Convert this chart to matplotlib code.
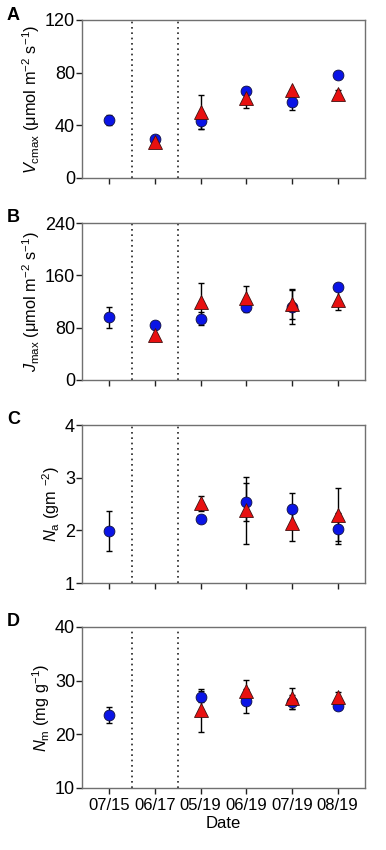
import numpy as np
import matplotlib
matplotlib.use("Agg")
import matplotlib.pyplot as plt

plt.rcParams['font.family'] = ['Liberation Sans', 'DejaVu Sans']
plt.rcParams['mathtext.fontset'] = 'custom'
plt.rcParams['mathtext.rm'] = 'Liberation Sans'
plt.rcParams['mathtext.it'] = 'Liberation Sans:italic'

dates = ['07/15', '06/17', '05/19', '06/19', '07/19', '08/19']

# circles (blue) and triangles (red): mean, error
vc_circ = [44, 30, 43, 66, 58, 78]
vc_circ_err = [4, 0, 6, 0, 6, 0]
vc_tri = [np.nan, 27, 50, 61, 67, 64]
vc_tri_err = [0, 0, 13, 8, 0, 3]

jm_circ = [96, 84, 94, 111, 112, 142]
jm_circ_err = [16, 0, 10, 7, 27, 0]
jm_tri = [np.nan, 69, 120, 126, 116, 122]
jm_tri_err = [0, 0, 28, 18, 22, 15]

na_circ = [1.99, np.nan, 2.22, 2.53, 2.41, 2.03]
na_circ_err = [0.38, 0, 0, 0.36, 0.30, 0.29]
na_tri = [np.nan, np.nan, 2.51, 2.38, 2.14, 2.30]
na_tri_err = [0, 0, 0.14, 0.64, 0.35, 0.51]

nm_circ = [23.6, np.nan, 27.0, 26.2, 26.0, 25.2]
nm_circ_err = [1.4, 0, 1.0, 2.2, 1.3, 0]
nm_tri = [np.nan, np.nan, 24.5, 28.0, 26.7, 27.0]
nm_tri_err = [0, 0, 4.0, 2.1, 2.0, 0.8]

panels = [
    ('A', vc_circ, vc_circ_err, vc_tri, vc_tri_err, (0, 120), [0, 40, 80, 120],
     r'$V_{\mathrm{cmax}}$ ($\mathrm{\mu}$mol m$^{-2}$ s$^{-1}$)'),
    ('B', jm_circ, jm_circ_err, jm_tri, jm_tri_err, (0, 240), [0, 80, 160, 240],
     r'$J_{\mathrm{max}}$ ($\mathrm{\mu}$mol m$^{-2}$ s$^{-1}$)'),
    ('C', na_circ, na_circ_err, na_tri, na_tri_err, (1, 4), [1, 2, 3, 4],
     r'$N_{\mathrm{a}}$ (gm $^{-2}$)'),
    ('D', nm_circ, nm_circ_err, nm_tri, nm_tri_err, (10, 40), [10, 20, 30, 40],
     r'$N_{\mathrm{m}}$ (mg g$^{-1}$)'),
]

fig = plt.figure(figsize=(3.86, 8.5), dpi=100)
W, H = 386, 850
boxes = [(20, 178), (223, 380), (425, 583), (627, 788)]
x = np.arange(len(dates))
grey = '#707070'

for (letter, c, ce, t, te, ylim, yt, ylab), (top, bot) in zip(panels, boxes):
    ax = fig.add_axes([82 / W, 1 - bot / H, (365 - 82) / W, (bot - top) / H])
    for xv in (0.5, 1.5):
        ax.axvline(xv, color='#222222', ls=(0, (1, 2.2)), lw=1.2, zorder=1)
    ax.errorbar(x, c, yerr=ce, fmt='none', ecolor='black', elinewidth=1,
                capsize=2.5, capthick=1, zorder=2)
    ax.errorbar(x, t, yerr=te, fmt='none', ecolor='black', elinewidth=1,
                capsize=2.5, capthick=1, zorder=2)
    ax.plot(x, c, 'o', color='#0a14e6', mec='#101040', mew=0.6, ms=7.8,
            ls='none', zorder=3)
    ax.plot(x, t, '^', color='#e81010', mec='#401010', mew=0.6, ms=9.5,
            ls='none', zorder=4)
    ax.set_xlim(-0.6, 5.6)
    ax.set_ylim(*ylim)
    ax.set_yticks(yt)
    ax.set_xticks(x)
    ax.tick_params(direction='out', length=4, width=1, color='#222222',
                   labelsize=13, pad=1)
    ax.tick_params(axis='x', pad=3)
    if letter == 'D':
        ax.set_xticklabels(dates, fontsize=12)
        ax.set_xlabel('Date', fontsize=12, labelpad=2)
    else:
        ax.set_xticklabels([])
    for s in ax.spines.values():
        s.set_color(grey)
        s.set_linewidth(1)
    ax.set_ylabel(ylab, fontsize=11.8, labelpad=2)
    fig.text(7 / W, 1 - (top - 5) / H, letter, fontsize=13, fontweight='bold',
             ha='left', va='center')

fig.savefig('out.png', dpi=100)
